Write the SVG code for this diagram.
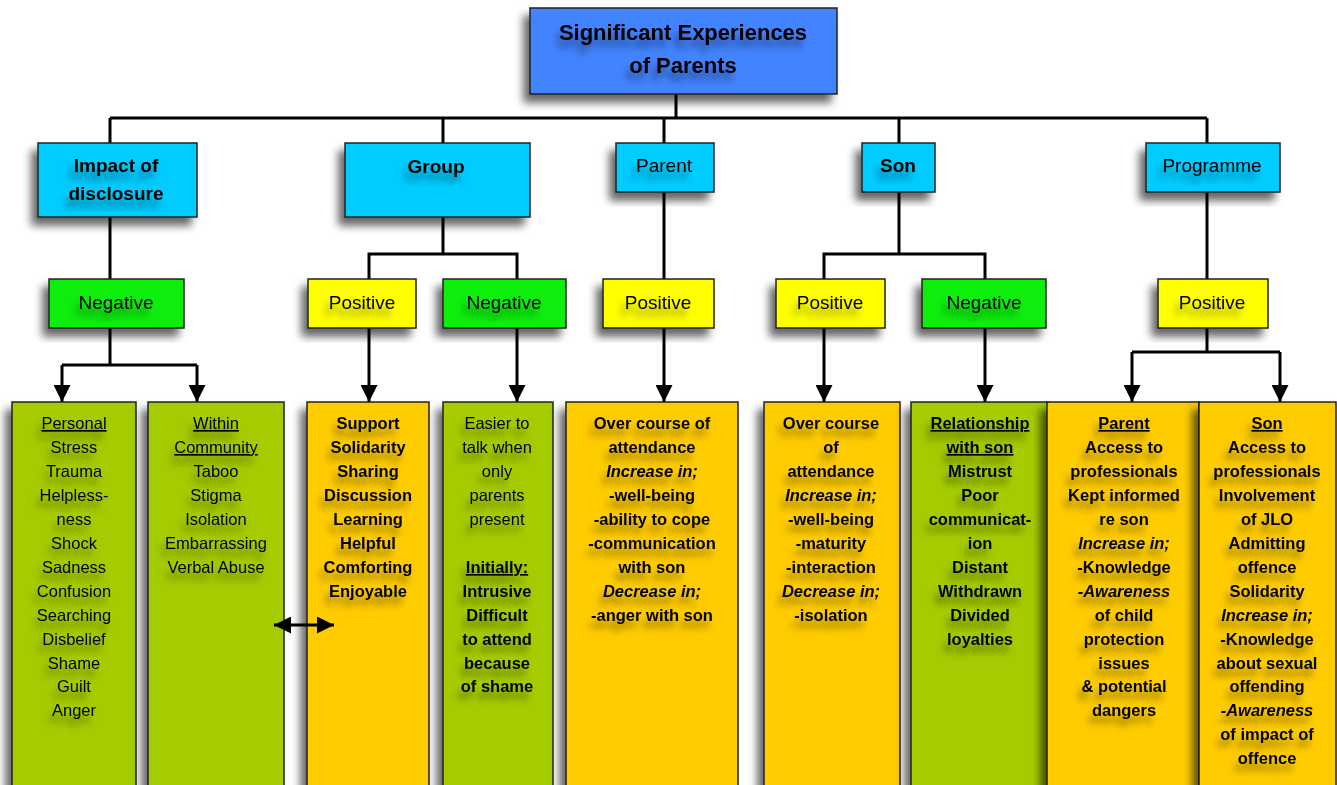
<svg xmlns="http://www.w3.org/2000/svg" width="1337" height="785" viewBox="0 0 1337 785">
<defs>
<filter id="sh" x="-20%" y="-20%" width="140%" height="150%">
<feDropShadow dx="-6" dy="8" stdDeviation="4.5" flood-color="#000" flood-opacity="0.6"/>
</filter>
<filter id="tsh" x="-20%" y="-20%" width="140%" height="160%">
<feDropShadow dx="-4" dy="8" stdDeviation="3.5" flood-color="#000" flood-opacity="0.4"/>
</filter>
<marker id="ah" viewBox="0 0 10 10" refX="10" refY="5" markerWidth="17" markerHeight="17" markerUnits="userSpaceOnUse" orient="auto-start-reverse">
<path d="M0,0 L10,5 L0,10 z" fill="#000"/>
</marker>
</defs>
<style>
.box{stroke:#222;stroke-width:1.5;filter:url(#sh)}
.title{fill:#4383FF}
.l1{fill:#00CCFF}
.neg{fill:#11EE11}
.pos{fill:#FFFF00}
.og{fill:#A4CC00}
.oy{fill:#FFCC00}
text{font-family:"Comic Sans MS","Liberation Sans",Arial,sans-serif;fill:#000;text-anchor:middle}
.t{filter:url(#tsh)}
.tt{font-size:22px;font-weight:bold}
.h1{font-size:19px}
.b{font-weight:bold}
.h2{font-size:19px}
.c{font-size:16.5px}
.i{font-style:italic}
.u{text-decoration:underline}
.conn{stroke:#000;stroke-width:3;fill:none}
</style>

<g id="connectors">
<path class="conn" d="M676,94 V118 M110,118 H1207 M110,118 V143 M443,118 V143 M664,118 V143 M899,118 V143 M1207,118 V143"/>
<path class="conn" d="M110,217 V279"/>
<path class="conn" d="M443,217 V254 M369,279 V254 H517 V279"/>
<path class="conn" d="M664,192 V279"/>
<path class="conn" d="M899,192 V254 M824,279 V254 H985 V279"/>
<path class="conn" d="M1207,192 V279"/>
<path class="conn" d="M110,328 V365 M62,365 H197"/>
<line class="conn" x1="62" y1="365" x2="62" y2="402" marker-end="url(#ah)"/>
<line class="conn" x1="197" y1="365" x2="197" y2="402" marker-end="url(#ah)"/>
<line class="conn" x1="369" y1="328" x2="369" y2="402" marker-end="url(#ah)"/>
<line class="conn" x1="517" y1="328" x2="517" y2="402" marker-end="url(#ah)"/>
<line class="conn" x1="664" y1="328" x2="664" y2="402" marker-end="url(#ah)"/>
<line class="conn" x1="824" y1="328" x2="824" y2="402" marker-end="url(#ah)"/>
<line class="conn" x1="985" y1="328" x2="985" y2="402" marker-end="url(#ah)"/>
<path class="conn" d="M1207,328 V352 M1132,352 H1280"/>
<line class="conn" x1="1132" y1="352" x2="1132" y2="402" marker-end="url(#ah)"/>
<line class="conn" x1="1280" y1="352" x2="1280" y2="402" marker-end="url(#ah)"/>
</g>

<g id="n-title">
<rect class="box title" x="530" y="8" width="307" height="86"/>
<g class="t"><text class="tt" x="683" y="40">Significant Experiences</text>
<text class="tt" x="683" y="73">of Parents</text></g>
</g>

<g id="n-impact">
<rect class="box l1" x="38" y="143" width="159" height="74"/>
<g class="t"><text class="h1 b" x="116" y="172">Impact of</text>
<text class="h1 b" x="116" y="200">disclosure</text></g>
</g>
<g id="n-group">
<rect class="box l1" x="345" y="143" width="185" height="74"/>
<text class="h1 b t" x="436" y="173">Group</text>
</g>
<g id="n-parent">
<rect class="box l1" x="616" y="143" width="98" height="49"/>
<text class="h1 t" x="664" y="172">Parent</text>
</g>
<g id="n-son">
<rect class="box l1" x="862" y="143" width="73" height="49"/>
<text class="h1 b t" x="898" y="172">Son</text>
</g>
<g id="n-programme">
<rect class="box l1" x="1146" y="143" width="134" height="49"/>
<text class="h1 t" x="1212" y="172">Programme</text>
</g>

<g id="n-impact-neg">
<rect class="box neg" x="49" y="279" width="135" height="49"/>
<text class="h2 t" x="116" y="309">Negative</text>
</g>
<g id="n-group-pos">
<rect class="box pos" x="308" y="279" width="108" height="49"/>
<text class="h2 t" x="362" y="309">Positive</text>
</g>
<g id="n-group-neg">
<rect class="box neg" x="443" y="279" width="123" height="49"/>
<text class="h2 t" x="504" y="309">Negative</text>
</g>
<g id="n-parent-pos">
<rect class="box pos" x="603" y="279" width="111" height="49"/>
<text class="h2 t" x="658" y="309">Positive</text>
</g>
<g id="n-son-pos">
<rect class="box pos" x="776" y="279" width="109" height="49"/>
<text class="h2 t" x="830" y="309">Positive</text>
</g>
<g id="n-son-neg">
<rect class="box neg" x="922" y="279" width="124" height="49"/>
<text class="h2 t" x="984" y="309">Negative</text>
</g>
<g id="n-prog-pos">
<rect class="box pos" x="1158" y="279" width="110" height="49"/>
<text class="h2 t" x="1212" y="309">Positive</text>
</g>

<g id="n-personal">
<rect class="box og" x="12" y="402" width="124" height="400"/>
<g class="t c">
<text class="u" x="74" y="429">Personal</text>
<text x="74" y="453">Stress</text>
<text x="74" y="477">Trauma</text>
<text x="74" y="501">Helpless-</text>
<text x="74" y="525">ness</text>
<text x="74" y="549">Shock</text>
<text x="74" y="573">Sadness</text>
<text x="74" y="597">Confusion</text>
<text x="74" y="621">Searching</text>
<text x="74" y="645">Disbelief</text>
<text x="74" y="669">Shame</text>
<text x="74" y="692">Guilt</text>
<text x="74" y="716">Anger</text>
</g>
</g>

<g id="n-community">
<rect class="box og" x="148" y="402" width="136" height="400"/>
<g class="t c">
<text class="u" x="216" y="429">Within</text>
<text class="u" x="216" y="453">Community</text>
<text x="216" y="477">Taboo</text>
<text x="216" y="501">Stigma</text>
<text x="216" y="525">Isolation</text>
<text x="216" y="549">Embarrassing</text>
<text x="216" y="573">Verbal Abuse</text>
</g>
</g>

<g id="n-support">
<rect class="box oy" x="307" y="402" width="122" height="400"/>
<g class="t c b">
<text x="368" y="429">Support</text>
<text x="368" y="453">Solidarity</text>
<text x="368" y="477">Sharing</text>
<text x="368" y="501">Discussion</text>
<text x="368" y="525">Learning</text>
<text x="368" y="549">Helpful</text>
<text x="368" y="573">Comforting</text>
<text x="368" y="597">Enjoyable</text>
</g>
</g>

<g id="n-easier">
<rect class="box og" x="443" y="402" width="110" height="400"/>
<g class="t c">
<text x="497" y="429">Easier to</text>
<text x="497" y="453">talk when</text>
<text x="497" y="477">only</text>
<text x="497" y="501">parents</text>
<text x="497" y="525">present</text>
<text class="b u" x="497" y="573">Initially:</text>
<text class="b" x="497" y="597">Intrusive</text>
<text class="b" x="497" y="621">Difficult</text>
<text class="b" x="497" y="645">to attend</text>
<text class="b" x="497" y="669">because</text>
<text class="b" x="497" y="692">of shame</text>
</g>
</g>

<g id="n-parent-detail">
<rect class="box oy" x="566" y="402" width="172" height="400"/>
<g class="t c b">
<text x="652" y="429">Over course of</text>
<text x="652" y="453">attendance</text>
<text class="i" x="652" y="477">Increase in;</text>
<text x="652" y="501">-well-being</text>
<text x="652" y="525">-ability to cope</text>
<text x="652" y="549">-communication</text>
<text x="652" y="573">with son</text>
<text class="i" x="652" y="597">Decrease in;</text>
<text x="652" y="621">-anger with son</text>
</g>
</g>

<g id="n-son-detail">
<rect class="box oy" x="764" y="402" width="136" height="400"/>
<g class="t c b">
<text x="831" y="429">Over course</text>
<text x="831" y="453">of</text>
<text x="831" y="477">attendance</text>
<text class="i" x="831" y="501">Increase in;</text>
<text x="831" y="525">-well-being</text>
<text x="831" y="549">-maturity</text>
<text x="831" y="573">-interaction</text>
<text class="i" x="831" y="597">Decrease in;</text>
<text x="831" y="621">-isolation</text>
</g>
</g>

<g id="n-relationship">
<rect class="box og" x="911" y="402" width="138" height="400"/>
<g class="t c b">
<text class="u" x="980" y="429">Relationship</text>
<text class="u" x="980" y="453">with son</text>
<text x="980" y="477">Mistrust</text>
<text x="980" y="501">Poor</text>
<text x="980" y="525">communicat-</text>
<text x="980" y="549">ion</text>
<text x="980" y="573">Distant</text>
<text x="980" y="597">Withdrawn</text>
<text x="980" y="621">Divided</text>
<text x="980" y="645">loyalties</text>
</g>
</g>

<g id="n-prog-parent">
<rect class="box oy" x="1047" y="402" width="152" height="400"/>
<g class="t c b">
<text class="u" x="1124" y="429">Parent</text>
<text x="1124" y="453">Access to</text>
<text x="1124" y="477">professionals</text>
<text x="1124" y="501">Kept informed</text>
<text x="1124" y="525">re son</text>
<text class="i" x="1124" y="549">Increase in;</text>
<text x="1124" y="573">-Knowledge</text>
<text class="i" x="1124" y="597">-Awareness</text>
<text x="1124" y="621">of child</text>
<text x="1124" y="645">protection</text>
<text x="1124" y="669">issues</text>
<text x="1124" y="692">&amp; potential</text>
<text x="1124" y="716">dangers</text>
</g>
</g>

<g id="n-prog-son">
<rect class="box oy" x="1199" y="402" width="137" height="400"/>
<g class="t c b">
<text class="u" x="1267" y="429">Son</text>
<text x="1267" y="453">Access to</text>
<text x="1267" y="477">professionals</text>
<text x="1267" y="501">Involvement</text>
<text x="1267" y="525">of JLO</text>
<text x="1267" y="549">Admitting</text>
<text x="1267" y="573">offence</text>
<text x="1267" y="597">Solidarity</text>
<text class="i" x="1267" y="621">Increase in;</text>
<text x="1267" y="645">-Knowledge</text>
<text x="1267" y="669">about sexual</text>
<text x="1267" y="692">offending</text>
<text class="i" x="1267" y="716">-Awareness</text>
<text x="1267" y="740">of impact of</text>
<text x="1267" y="764">offence</text>
</g>
</g>

<g id="connector-double">
<line class="conn" x1="274" y1="625" x2="334" y2="625" marker-start="url(#ah)" marker-end="url(#ah)"/>
</g>
</svg>
